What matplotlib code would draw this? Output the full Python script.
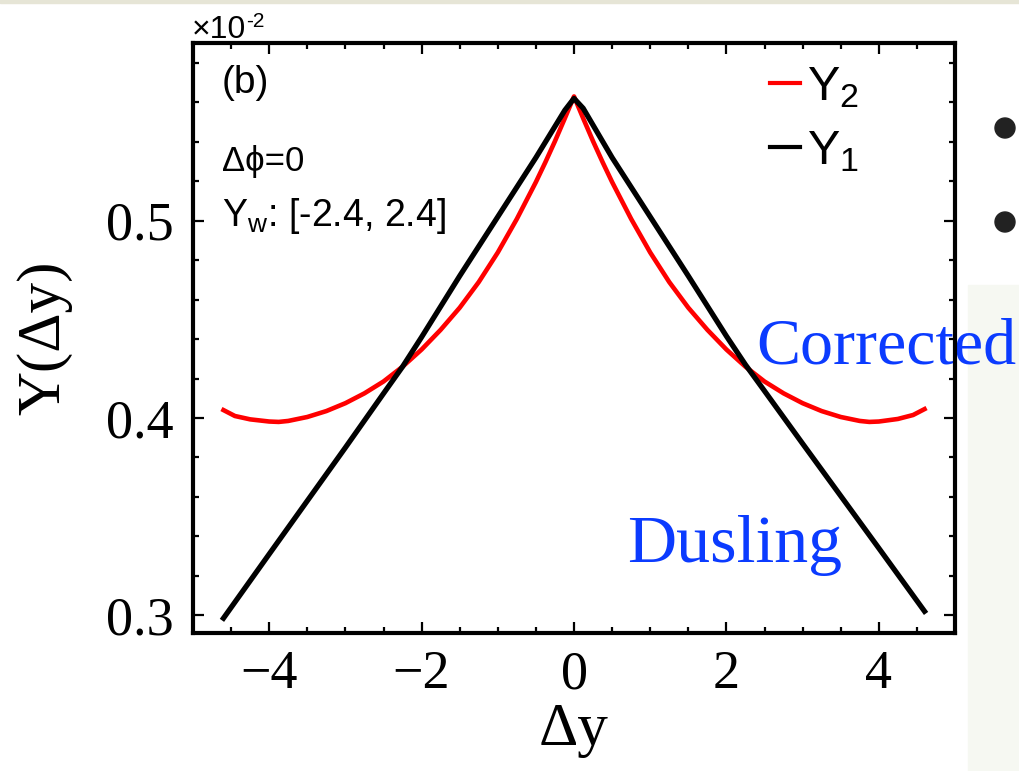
import matplotlib
matplotlib.use("Agg")
import matplotlib.pyplot as plt
from matplotlib.patches import Rectangle, Ellipse
from matplotlib.ticker import MultipleLocator, FormatStrFormatter

plt.rcParams['mathtext.fontset'] = 'custom'
plt.rcParams['mathtext.rm'] = 'Liberation Sans'
plt.rcParams['mathtext.it'] = 'Liberation Sans'

# Y1 (black), values in units of 1e-2
y1_dy = [-4.6, -4.0, -3.5, -3.0, -2.5, -2.25, -2.0, -1.5, -1.0, -0.5, -0.12, 0.0,
         0.12, 0.5, 1.0, 1.5, 2.0, 2.25, 2.5, 3.0, 3.5, 4.0, 4.6]
y1_val = [0.2985, 0.331, 0.358, 0.385, 0.4124, 0.426, 0.441, 0.472, 0.502, 0.532, 0.556, 0.562,
          0.557, 0.532, 0.502, 0.472, 0.4415, 0.427, 0.4137, 0.387, 0.3605, 0.334, 0.302]

# Y2 (red)
y2_dy = [-4.6, -4.45, -4.25, -4.0, -3.875, -3.75, -3.5, -3.25, -3.0, -2.75, -2.5, -2.25,
         -2.0, -1.75, -1.5, -1.25, -1.0, -0.75, -0.5, -0.375, -0.25, -0.125, 0.0,
         0.125, 0.25, 0.375, 0.5, 0.75, 1.0, 1.25, 1.5, 1.75, 2.0, 2.25, 2.5, 2.75,
         3.0, 3.25, 3.5, 3.75, 3.875, 4.0, 4.25, 4.45, 4.6]
y2_val = [0.404, 0.401, 0.3993, 0.3982, 0.398, 0.3985, 0.4005, 0.4035, 0.4075, 0.4125, 0.4185, 0.426,
          0.4347, 0.4447, 0.4559, 0.4689, 0.4839, 0.5009, 0.5196, 0.5297, 0.5403, 0.5515, 0.563,
          0.5515, 0.5403, 0.5297, 0.5196, 0.5009, 0.4839, 0.4689, 0.4559, 0.4447, 0.4347, 0.426, 0.4185, 0.4125,
          0.4075, 0.4035, 0.4005, 0.3985, 0.398, 0.3982, 0.3995, 0.4015, 0.4045]

serif = 'Liberation Serif'
sans = ['Liberation Sans', 'DejaVu Sans']
blue = '#0b3bff'

fig = plt.figure(figsize=(10.19, 7.71), dpi=100)

# slide background bits around the figure
fig.patches.append(Rectangle((0.95, 0), 0.05, 0.63, transform=fig.transFigure,
                             color='#f6f8f2', zorder=-2))
fig.patches.append(Rectangle((0, 0.996), 1, 0.004, transform=fig.transFigure,
                             color='#e6e5d6', zorder=-2))
for yb in [128, 222]:
    fig.patches.append(Ellipse((1005 / 1019, 1 - yb / 771), 20 / 1019, 20 / 771,
                               transform=fig.transFigure, color='#222222', zorder=-1))

ax = fig.add_axes([0.1894, 0.179, 0.7478, 0.765])
ax.patch.set_alpha(0)

ax.plot(y2_dy, y2_val, color='#ff0000', lw=3.3, label=r'Y$_2$', zorder=3,
        solid_joinstyle='round')
ax.plot(y1_dy, y1_val, color='black', lw=3.8, label=r'Y$_1$', zorder=4,
        solid_joinstyle='round')

ax.set_xlim(-5, 5)
ax.set_ylim(0.291, 0.59)

ax.xaxis.set_major_locator(MultipleLocator(2))
ax.xaxis.set_minor_locator(MultipleLocator(0.5))
ax.yaxis.set_major_locator(MultipleLocator(0.1))
ax.yaxis.set_minor_locator(MultipleLocator(0.02))
ax.yaxis.set_major_formatter(FormatStrFormatter('%.1f'))

ax.tick_params(which='both', direction='in', top=True, right=True, width=1.6)
ax.tick_params(which='major', length=8)
ax.tick_params(which='minor', length=4)
ax.tick_params(axis='x', pad=12)
ax.tick_params(axis='y', pad=14)
for s in ax.spines.values():
    s.set_linewidth(3)
for lab in ax.get_xticklabels() + ax.get_yticklabels():
    lab.set_fontfamily(serif)
    lab.set_fontsize(39)

ax.set_xlabel('Δy', fontfamily=serif, fontsize=44, labelpad=2)
ax.set_ylabel('Y(Δy)', fontfamily=serif, fontsize=44, labelpad=24)

# axis multiplier
fig.text(192 / 1019, 1 - 38 / 771, '×10', family=sans, fontsize=23)
fig.text(246 / 1019, 1 - 27 / 771, '-2', family=sans, fontsize=15)

ax.text(0.038, 0.915, '(b)', transform=ax.transAxes, family=sans, fontsize=28)
ax.text(0.038, 0.80, 'Δϕ=0', transform=ax.transAxes, family=sans, fontsize=25, va='center')
ax.text(0.038, 0.707, r'Y$_{\mathregular{w}}$: [-2.4, 2.4]', transform=ax.transAxes,
        family=sans, fontsize=27, va='center')

ax.text(756 / 1019, 1 - 348 / 771, 'Corrected', transform=fig.transFigure, fontsize=47.5,
        family=serif, color=blue, va='center', clip_on=False, zorder=2)
ax.text(2.11, 0.3355, 'Dusling', fontsize=49, family=serif, color=blue,
        va='center', ha='center', zorder=2)

leg = ax.legend(loc='upper left', bbox_to_anchor=(0.729, 1.0), frameon=False,
                prop={'family': sans, 'size': 35}, handlelength=0.6,
                handletextpad=0.15, labelspacing=0.4, borderaxespad=0.05)
for h in leg.get_lines():
    h.set_linewidth(3)

fig.savefig('out.png', dpi=100)
